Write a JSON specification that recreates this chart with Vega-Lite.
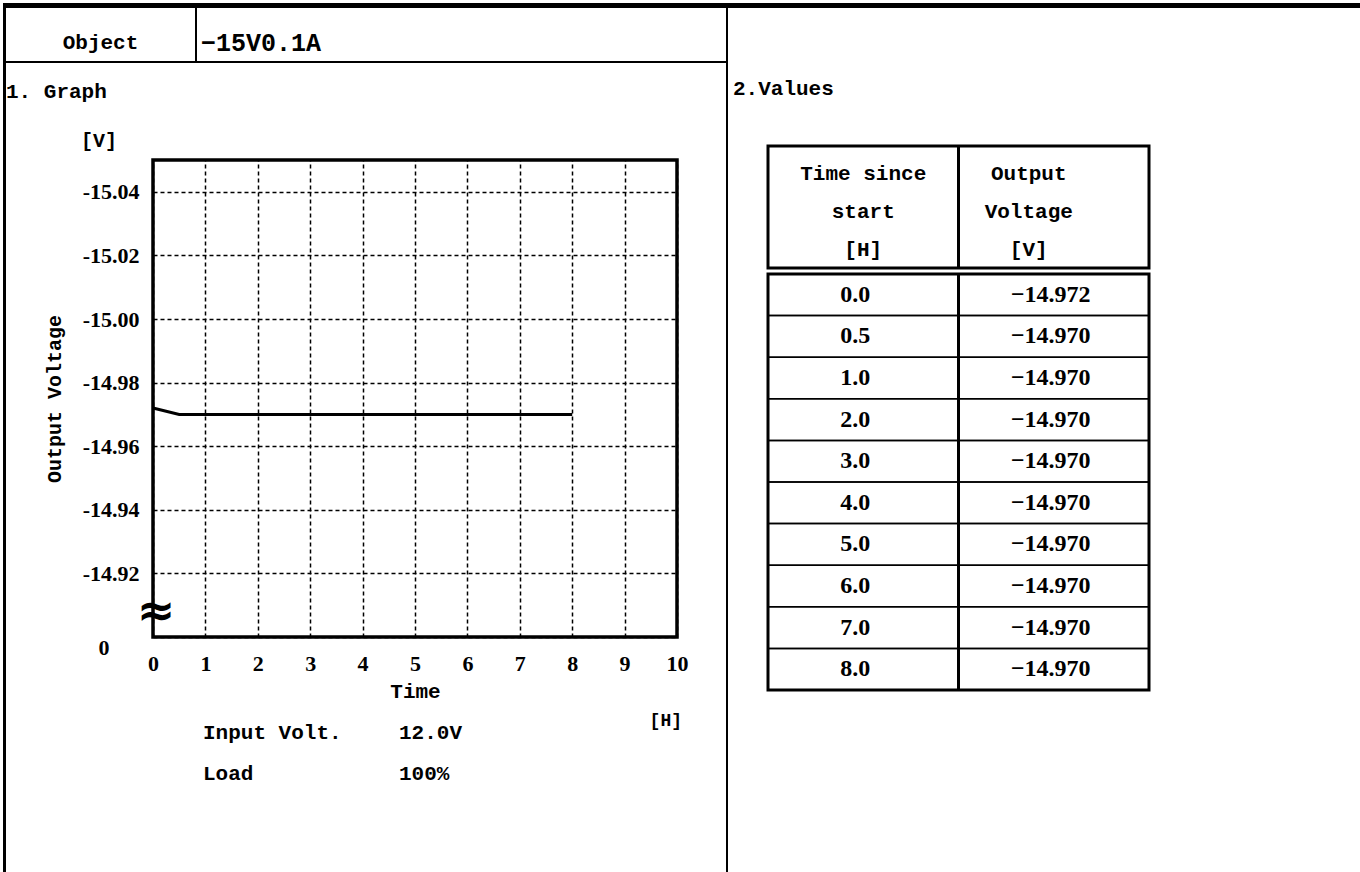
{
  "$schema": "https://vega.github.io/schema/vega-lite/v6.json",
  "background": "white",
  "padding": {"left": 3, "top": 3, "right": 0, "bottom": 0},
  "config": {
    "view": {"stroke": null},
    "concat": {"spacing": 0},
    "font": "Liberation Mono",
    "text": {"font": "Liberation Mono", "fontSize": 21, "color": "black", "fontWeight": "bold"},
    "axis": {"labelColor": "black", "titleColor": "black", "titleFontWeight": "bold", "labelFontWeight": "bold"},
    "title": {"color": "black", "fontWeight": "bold", "font": "Liberation Mono"}
  },
  "datasets": {
    "readings": [
      {"hours": 0, "volt": -14.972},
      {"hours": 0.5, "volt": -14.970},
      {"hours": 1, "volt": -14.970},
      {"hours": 2, "volt": -14.970},
      {"hours": 3, "volt": -14.970},
      {"hours": 4, "volt": -14.970},
      {"hours": 5, "volt": -14.970},
      {"hours": 6, "volt": -14.970},
      {"hours": 7, "volt": -14.970},
      {"hours": 8, "volt": -14.970}
    ]
  },
  "spacing": 0,
  "vconcat": [
    {"width": 1357, "height": 5, "data": {"values": []}, "mark": "rule", "encoding": {}, "view": {"fill": "black", "stroke": null}},
    {
      "spacing": 0,
      "hconcat": [
        {"width": 3, "height": 864, "data": {"values": []}, "mark": "rule", "encoding": {}, "view": {"fill": "black", "stroke": null}},
        {
          "spacing": 0,
          "vconcat": [
            {
              "spacing": 0,
              "hconcat": [
                {"width": 189, "height": 53, "data": {"values": [{"label": "Object"}]},
                 "mark": {"type": "text", "dy": 8},
                 "encoding": {"text": {"field": "label", "type": "nominal"}}},
                {"width": 2, "height": 53, "data": {"values": []}, "mark": "rule", "encoding": {}, "view": {"fill": "black", "stroke": null}},
                {"width": 529, "height": 53, "data": {"values": [{"label": "−15V0.1A"}]},
                 "mark": {"type": "text", "align": "left", "dx": 4, "dy": 8, "fontSize": 25},
                 "encoding": {
                   "x": {"datum": 0, "type": "quantitative", "scale": {"domain": [0, 1]}, "axis": null},
                   "text": {"field": "label", "type": "nominal"}
                 }}
              ]
            },
            {"width": 720, "height": 2, "data": {"values": []}, "mark": "rule", "encoding": {}, "view": {"fill": "black", "stroke": null}},
            {"width": 720, "height": 66, "data": {"values": [{"label": "1. Graph"}]},
             "mark": {"type": "text", "align": "left", "dy": -4},
             "encoding": {
               "x": {"datum": 0, "type": "quantitative", "scale": {"domain": [0, 1]}, "axis": null},
               "text": {"field": "label", "type": "nominal"}
             }},
            {
              "spacing": 0,
              "vconcat": [
                {
                  "spacing": 0,
                  "hconcat": [
                    {"width": 36, "height": 552, "data": {"values": []}, "mark": "rule", "encoding": {}},
                    {
                      "width": 524,
                      "height": 477,
                      "view": {"stroke": "black", "strokeWidth": 3.5},
                      "title": {"text": "[V]", "anchor": "start", "frame": "group", "dx": -72, "offset": 9, "fontSize": 20},
                      "data": {"name": "readings"},
                      "layer": [
                        {
                          "mark": {"type": "line", "color": "black", "strokeWidth": 3},
                          "encoding": {
                            "x": {
                              "field": "hours", "type": "quantitative",
                              "scale": {"domain": [0, 10], "nice": false},
                              "axis": {
                                "values": [0, 1, 2, 3, 4, 5, 6, 7, 8, 9, 10], "format": "d",
                                "title": "Time", "titleFont": "Liberation Mono", "titleFontSize": 21, "titlePadding": 6,
                                "labelFont": "Liberation Serif", "labelFontSize": 22, "labelPadding": 16,
                                "labelFlush": false, "labelOverlap": false,
                                "ticks": false, "tickSize": 0, "domain": false,
                                "grid": true, "gridColor": "black", "gridDash": [4, 3], "gridWidth": 1.5
                              }
                            },
                            "y": {
                              "field": "volt", "type": "quantitative",
                              "scale": {"domain": [-15.05, -14.9], "reverse": true, "nice": false, "zero": false},
                              "axis": {
                                "values": [-15.04, -15.03, -15.02, -15.01, -15.0, -14.99, -14.98, -14.97, -14.96, -14.95, -14.94, -14.93, -14.92, -14.91, -14.9],
                                "labelExpr": "datum.value > -14.905 ? '0' : (round(abs(datum.value) * 100) % 2 == 0 ? replace(format(datum.value, '.2f'), '−', '-') : '')",
                                "title": "Output Voltage", "titleFont": "Liberation Mono", "titleFontSize": 20, "titlePadding": 18,
                                "labelFont": "Liberation Serif", "labelFontSize": 22,
                                "labelPadding": {"condition": {"test": "datum.value > -14.905", "value": 44}, "value": 14},
                                "labelBaseline": {"condition": {"test": "datum.value > -14.905", "value": "top"}, "value": "middle"},
                                "labelFlush": false, "labelOverlap": false,
                                "ticks": false, "tickSize": 0, "domain": false,
                                "grid": true, "gridColor": "black", "gridDash": [4, 3], "gridWidth": 1.5
                              }
                            }
                          }
                        },
                        {
                          "data": {"values": [{}]},
                          "mark": {"type": "text", "text": "≈", "font": "DejaVu Sans", "fontWeight": "bold", "fontSize": 46, "dx": 3, "baseline": "middle"},
                          "encoding": {"x": {"datum": 0, "type": "quantitative"}, "y": {"datum": -14.908, "type": "quantitative"}}
                        }
                      ]
                    }
                  ]
                },
                {
                  "spacing": 0,
                  "hconcat": [
                    {"width": 197, "height": 83, "data": {"values": []}, "mark": "rule", "encoding": {}},
                    {
                      "width": 392, "height": 83,
                      "data": {"values": [
                        {"item": "Input Volt.", "setting": "12.0V"},
                        {"item": "Load", "setting": "100%"}
                      ]},
                      "transform": [{"fold": ["item", "setting"], "as": ["column", "entry"]}],
                      "mark": {"type": "text", "align": "left"},
                      "encoding": {
                        "x": {"field": "column", "type": "nominal", "bandPosition": 0, "scale": {"type": "band", "paddingInner": 0, "paddingOuter": 0}, "axis": null},
                        "y": {"field": "item", "type": "nominal", "sort": null, "scale": {"type": "band", "paddingInner": 0, "paddingOuter": 0}, "axis": null},
                        "text": {"field": "entry", "type": "nominal"}
                      }
                    },
                    {"width": 87, "height": 83, "data": {"values": [{"label": "[H]"}]},
                     "mark": {"type": "text", "align": "right", "baseline": "top", "fontSize": 18},
                     "encoding": {
                       "x": {"datum": 1, "type": "quantitative", "scale": {"domain": [0, 1]}, "axis": null},
                       "y": {"datum": 1, "type": "quantitative", "scale": {"domain": [0, 1]}, "axis": null},
                       "text": {"field": "label", "type": "nominal"}
                     }}
                  ]
                }
              ]
            }
          ]
        },
        {"width": 2, "height": 864, "data": {"values": []}, "mark": "rule", "encoding": {}, "view": {"fill": "black", "stroke": null}},
        {
          "spacing": 0,
          "vconcat": [
            {"width": 632, "height": 135, "data": {"values": [{"label": "2.Values"}]},
             "mark": {"type": "text", "align": "left", "dx": 5, "dy": 13.5},
             "encoding": {
               "x": {"datum": 0, "type": "quantitative", "scale": {"domain": [0, 1]}, "axis": null},
               "text": {"field": "label", "type": "nominal"}
             }},
            {
              "spacing": 0,
              "hconcat": [
                {"width": 36.5, "height": 10, "data": {"values": []}, "mark": "rule", "encoding": {}},
                {
                  "spacing": 0,
                  "vconcat": [
                    {
                      "width": 381, "height": 122,
                      "view": {"stroke": "black", "strokeWidth": 3},
                      "data": {"values": [
                        {"col": "time", "line": 1, "label": "Time since"},
                        {"col": "time", "line": 2, "label": "start"},
                        {"col": "time", "line": 3, "label": "[H]"},
                        {"col": "volt", "line": 1, "label": "Output"},
                        {"col": "volt", "line": 2, "label": "Voltage"},
                        {"col": "volt", "line": 3, "label": "[V]"}
                      ]},
                      "layer": [
                        {
                          "data": {"values": [{}]},
                          "mark": {"type": "rule", "strokeWidth": 3, "color": "black"},
                          "encoding": {"x": {"datum": "volt", "type": "nominal", "bandPosition": 0,
                            "scale": {"type": "band", "domain": ["time", "volt"], "paddingInner": 0, "paddingOuter": 0}, "axis": null}}
                        },
                        {
                          "transform": [{"filter": "datum.col == 'time'"}],
                          "mark": {"type": "text", "dy": 5},
                          "encoding": {
                            "x": {"field": "col", "type": "nominal", "axis": null},
                            "y": {"field": "line", "type": "ordinal", "scale": {"type": "point", "padding": 0.6}, "axis": null},
                            "text": {"field": "label", "type": "nominal"}
                          }
                        },
                        {
                          "transform": [{"filter": "datum.col == 'volt'"}],
                          "mark": {"type": "text", "dy": 5, "dx": -25},
                          "encoding": {
                            "x": {"field": "col", "type": "nominal", "axis": null},
                            "y": {"field": "line", "type": "ordinal", "axis": null},
                            "text": {"field": "label", "type": "nominal"}
                          }
                        }
                      ]
                    },
                    {
                      "width": 381, "height": 416,
                      "view": {"stroke": "black", "strokeWidth": 3},
                      "data": {"name": "readings"},
                      "layer": [
                        {
                          "mark": {"type": "rect", "fill": "transparent", "stroke": "black", "strokeWidth": 1.5},
                          "encoding": {"y": {"field": "hours", "type": "ordinal", "scale": {"type": "band", "paddingInner": 0, "paddingOuter": 0}, "axis": null}}
                        },
                        {
                          "data": {"values": [{}]},
                          "mark": {"type": "rule", "strokeWidth": 3, "color": "black"},
                          "encoding": {"x": {"datum": "volt", "type": "nominal", "bandPosition": 0,
                            "scale": {"type": "band", "domain": ["time", "volt"], "paddingInner": 0, "paddingOuter": 0}, "axis": null}}
                        },
                        {
                          "mark": {"type": "text", "font": "Liberation Serif", "fontSize": 24, "dx": -8},
                          "encoding": {
                            "x": {"datum": "time", "type": "nominal", "axis": null},
                            "y": {"field": "hours", "type": "ordinal", "axis": null},
                            "text": {"field": "hours", "type": "quantitative", "format": ".1f"}
                          }
                        },
                        {
                          "mark": {"type": "text", "font": "Liberation Serif", "fontSize": 24, "dx": -3},
                          "encoding": {
                            "x": {"datum": "volt", "type": "nominal", "axis": null},
                            "y": {"field": "hours", "type": "ordinal", "axis": null},
                            "text": {"field": "volt", "type": "quantitative", "format": ".3f"}
                          }
                        }
                      ]
                    }
                  ]
                }
              ]
            }
          ]
        }
      ]
    }
  ]
}
